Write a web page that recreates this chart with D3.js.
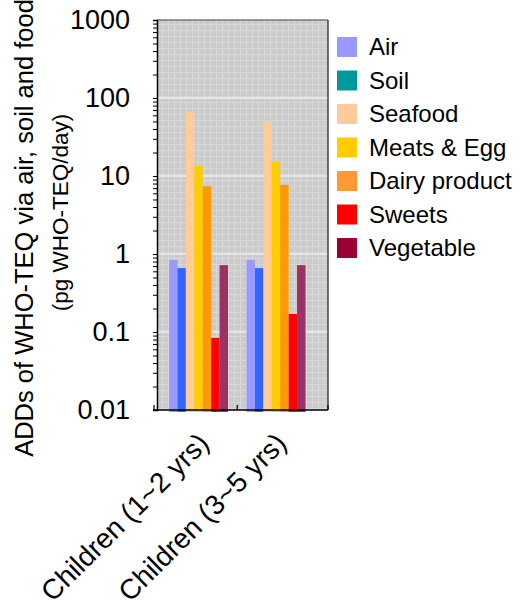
<!DOCTYPE html>
<html><head><meta charset="utf-8">
<script src="https://cdn.jsdelivr.net/npm/d3@7"></script>
<style>body{margin:0;background:#fff}text{font-family:"Liberation Sans",Arial,sans-serif;fill:#000}</style>
</head><body><svg id="c" width="521" height="608"></svg>
<script>
// ---- data ----
const categories = ["Children (1~2 yrs)", "Children (3~5 yrs)"];
const seriesNames = ["Air", "Soil", "Seafood", "Meats & Egg", "Dairy product", "Sweets", "Vegetable"];
const air = [0.84, 0.84];
const soil = [0.66, 0.66];
const seafood = [66, 50];
const meatsEgg = [13.4, 15.1];
const dairy = [7.4, 7.7];
const sweets = [0.084, 0.17];
const vegetable = [0.72, 0.72];
const yMajorTicks = [0.01, 0.1, 1, 10, 100, 1000];
const yTickLabels = ["0.01", "0.1", "1", "10", "100", "1000"];
const titleLine1 = "ADDs of WHO-TEQ via air, soil and food";
const titleLine2 = "(pg WHO-TEQ/day)";

// ---- styles ----
const barColors = ["#9999FF", "#3366FF", "#FFCC99", "#FFCC00", "#FF9900", "#FF0000", "#993366"];
const legendColors = ["#9999FF", "#009999", "#FFCC99", "#FFCC00", "#FF9933", "#FF0000", "#990033"];

const seriesValues = [air, soil, seafood, meatsEgg, dairy, sweets, vegetable];
const rows = [];
seriesNames.forEach((s, si) => categories.forEach((c, ci) => rows.push({series: s, si, cat: c, value: seriesValues[si][ci]})));

const svg = d3.select("#c");
const plot = {left: 157, right: 328, top: 20, bottom: 410};

const y = d3.scaleLog().domain([0.01, 1000]).range([plot.bottom, plot.top]);
const x = d3.scaleBand().domain(categories).range([159.75, 314.75]).paddingInner(0.239).paddingOuter(0.1195);
const xi = d3.scaleBand().domain(seriesNames).range([0, x.bandwidth()]).padding(0);

// background pattern
const defs = svg.append("defs");
const pat = defs.append("pattern").attr("id", "bgp").attr("patternUnits", "userSpaceOnUse")
  .attr("width", 6).attr("height", 6);
pat.append("rect").attr("width", 6).attr("height", 6).attr("fill", "#CBCBCB");
pat.append("rect").attr("x", 0).attr("y", 0).attr("width", 6).attr("height", 1).attr("fill", "#D8D8D8");
pat.append("rect").attr("x", 0).attr("y", 0).attr("width", 1).attr("height", 6).attr("fill", "#D8D8D8");

svg.append("rect").attr("x", plot.left).attr("y", plot.top)
  .attr("width", plot.right - plot.left).attr("height", plot.bottom - plot.top)
  .attr("fill", "url(#bgp)");

// major gridlines
svg.append("g").selectAll("line").data(yMajorTicks.slice(1, -1)).join("line")
  .attr("x1", plot.left).attr("x2", plot.right)
  .attr("y1", d => y(d)).attr("y2", d => y(d))
  .attr("stroke", "#EEEEEE").attr("stroke-width", 1.5);

// bars
svg.append("g").selectAll("rect").data(rows).join("rect")
  .attr("x", d => x(d.cat) + xi(d.series))
  .attr("width", xi.bandwidth())
  .attr("y", d => y(d.value))
  .attr("height", d => plot.bottom + 2 - y(d.value))
  .attr("fill", d => barColors[d.si]);

// frame top/right
svg.append("line").attr("x1", plot.left).attr("x2", plot.right).attr("y1", plot.top).attr("y2", plot.top)
  .attr("stroke", "#777").attr("stroke-width", 1.5);
svg.append("line").attr("x1", plot.right).attr("x2", plot.right).attr("y1", plot.top).attr("y2", plot.bottom)
  .attr("stroke", "#444").attr("stroke-width", 1.5);

// y axis
const allTicks = [];
yMajorTicks.forEach((t, i) => { if (i < yMajorTicks.length - 1) for (let k = 1; k <= 9; k++) allTicks.push(t * k); else allTicks.push(t); });
const yAxis = d3.axisLeft(y).tickValues(allTicks).tickSize(4).tickPadding(23)
  .tickFormat(d => { const i = yMajorTicks.findIndex(m => Math.abs(m - d) / m < 1e-9); return i >= 0 ? yTickLabels[i] : ""; });
const gy = svg.append("g").attr("transform", `translate(${plot.left},0)`).call(yAxis);
gy.select(".domain").attr("stroke", "#000").attr("stroke-width", 1.5);
gy.selectAll(".tick line").attr("stroke", "#000");
gy.selectAll(".tick text").attr("font-size", 27).style("font-family", '"Liberation Sans",Arial,sans-serif');

// x axis
const xAxis = d3.axisBottom(x).tickSize(0).tickPadding(0);
const gx = svg.append("g").attr("transform", `translate(0,${plot.bottom})`).call(xAxis);
gx.select(".domain").attr("d", `M${plot.left - 4},0H${plot.right}`).attr("stroke", "#000").attr("stroke-width", 1.5);
gx.selectAll(".tick text")
  .attr("font-size", 28).style("font-family", '"Liberation Sans",Arial,sans-serif')
  .attr("text-anchor", "end").attr("dy", null).attr("y", null)
  .attr("transform", "translate(12,35) rotate(-45)");
// category separator ticks
const sepX = (x(categories[0]) + x.bandwidth() + x(categories[1])) / 2;
[plot.left - 3, sepX, plot.right].forEach(px => {
  gx.append("line").attr("x1", px).attr("x2", px).attr("y1", -5).attr("y2", 0).attr("stroke", "#000").attr("stroke-width", 1.2);
});

// axis title
svg.append("text").attr("transform", `translate(33,228) rotate(-90)`).attr("text-anchor", "middle")
  .attr("font-size", 25.5).text(titleLine1);
svg.append("text").attr("transform", `translate(68,212.5) rotate(-90)`).attr("text-anchor", "middle")
  .attr("font-size", 22.5).text(titleLine2);

// legend
const lg = svg.append("g").selectAll("g").data(seriesNames).join("g")
  .attr("transform", (d, i) => `translate(337,${47 + i * 33.5})`);
lg.append("rect").attr("x", 0).attr("y", -10).attr("width", 20).attr("height", 20)
  .attr("fill", (d, i) => legendColors[i]);
lg.append("text").attr("x", 32).attr("y", 0).attr("dy", "0.35em").attr("font-size", 24).text(d => d);
</script></body></html>
